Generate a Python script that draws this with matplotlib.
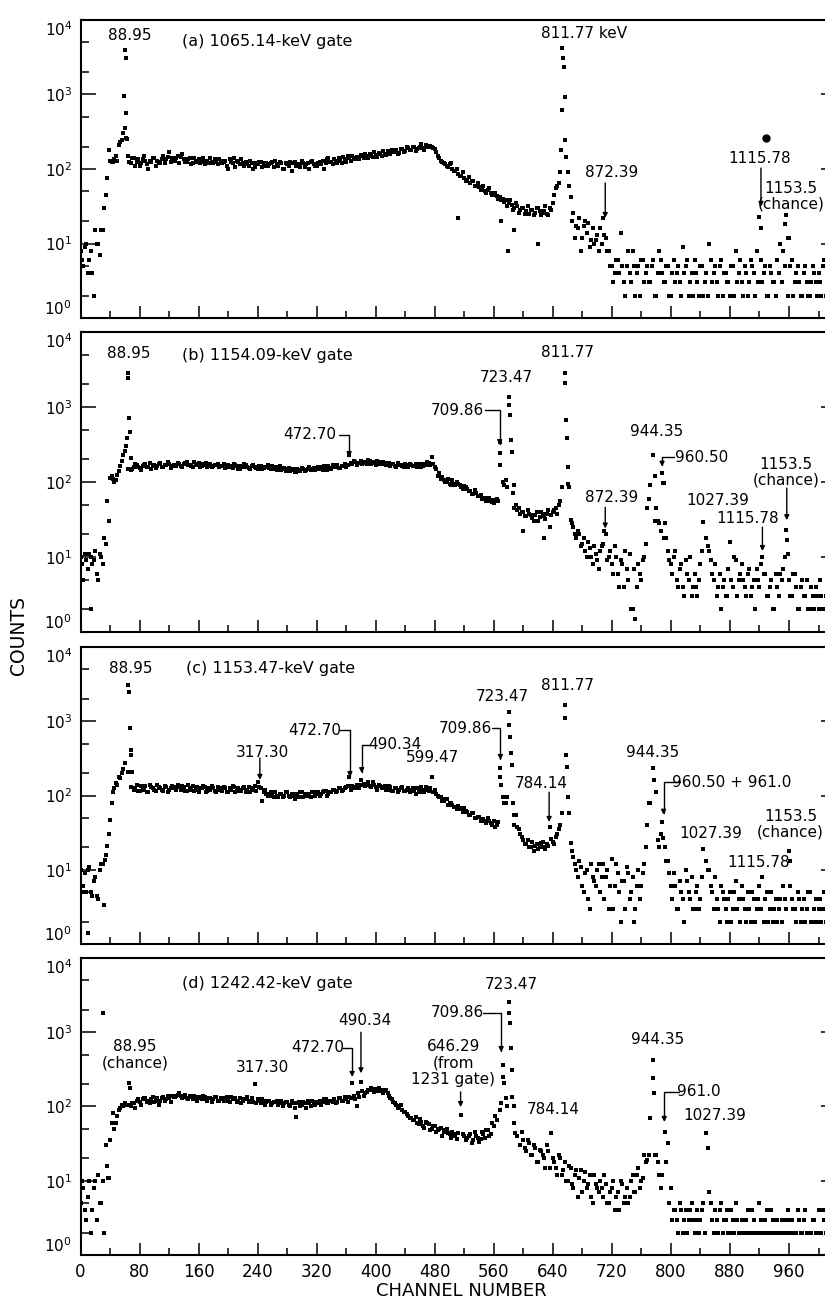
import numpy as np
import matplotlib.pyplot as plt

plt.rcParams['font.family'] = ['DejaVu Sans']

channels = np.arange(0, 1024, 4)
channels2 = np.arange(2, 1024, 4)

# ---- (a) 1065.14-keV gate ----  (0 = no visible point)
counts_a = [
    8, 5, 10, 6, 4, 15, 10, 15, 30, 75, 130, 125, 150, 210, 245, 360,
    150, 120, 140, 125, 110, 135, 130, 100, 125, 140, 130, 120, 150, 135, 170, 140,
    130, 150, 145, 135, 125, 140, 120, 130, 135, 125, 115, 130, 140, 120, 125, 135,
    120, 130, 100, 125, 140, 130, 115, 120, 125, 110, 120, 105, 115, 125, 110, 120,
    115, 125, 130, 110, 120, 100, 115, 125, 120, 110, 115, 130, 105, 120, 125, 115,
    110, 125, 130, 120, 140, 125, 135, 120, 130, 145, 125, 140, 150, 135, 145, 155,
    140, 150, 160, 145, 155, 165, 150, 160, 175, 160, 170, 180, 165, 185, 175, 190,
    180, 195, 185, 200, 190, 210, 195, 200, 185, 150, 130, 120, 110, 115, 100, 95,
    85, 80, 75, 72, 65, 70, 60, 57, 55, 50, 52, 48, 45, 44, 42, 40,
    38, 35, 33, 30, 32, 28, 30, 27, 25, 28, 26, 30, 24, 27, 25, 30,
    35, 55, 65, 620, 930, 90, 42, 26, 17, 22, 12, 20, 19, 11, 10, 13,
    16, 22, 12, 8, 5, 4, 6, 14, 3, 5, 4, 8, 2, 5, 6, 3,
    5, 3, 6, 2, 8, 4, 3, 5, 2, 6, 4, 3, 9, 5, 2, 4,
    6, 3, 5, 2, 4, 10, 3, 5, 2, 6, 4, 3, 2, 5, 8, 4,
    3, 5, 2, 6, 4, 8, 23, 3, 5, 2, 4, 3, 6, 10, 8, 24,
    12, 6, 3, 5, 2, 4, 3, 2, 5, 3, 4, 2, 6, 3, 2, 4,
]
counts_a2 = [
    6, 9, 4, 8, 2, 10, 7, 15, 45, 180, 125, 135, 130, 230, 300, 260,
    125, 140, 110, 135, 120, 150, 115, 130, 140, 110, 125, 135, 120, 145, 125, 130,
    140, 120, 160, 125, 135, 115, 140, 125, 120, 140, 130, 120, 125, 135, 115, 130,
    125, 110, 135, 120, 105, 125, 135, 110, 115, 130, 100, 120, 125, 105, 120, 110,
    120, 105, 115, 125, 100, 120, 110, 95, 125, 115, 105, 120, 115, 100, 130, 110,
    120, 115, 100, 135, 125, 115, 130, 140, 120, 135, 150, 130, 140, 145, 135, 150,
    160, 140, 150, 170, 145, 160, 175, 155, 165, 180, 170, 160, 185, 170, 195, 180,
    200, 175, 190, 215, 180, 195, 205, 190, 170, 140, 125, 115, 105, 120, 95, 100,
    80, 90, 70, 78, 68, 60, 65, 52, 60, 48, 55, 45, 48, 40, 38, 36,
    32, 38, 28, 35, 26, 30, 25, 32, 28, 24, 30, 27, 26, 32, 24, 28,
    45, 60, 90, 0, 0, 60, 20, 12, 16, 8, 17, 14, 9, 16, 11, 8,
    10, 13, 8, 5, 3, 6, 4, 5, 2, 8, 3, 5, 4, 2, 6, 4,
    3, 5, 2, 4, 6, 3, 5, 2, 4, 3, 5, 2, 4, 6, 3, 2,
    4, 2, 5, 3, 2, 6, 4, 3, 5, 2, 4, 3, 5, 2, 3, 6,
    2, 4, 3, 5, 2, 3, 6, 4, 2, 5, 3, 2, 4, 3, 5, 2,
    5, 2, 4, 3, 2, 5, 2, 3, 4, 2, 3, 5, 2, 4, 2, 3,
]
extra_ch_a = [59, 60, 61, 62, 63, 511, 570, 579, 588, 620, 650, 651, 653, 654, 655, 657, 658, 922, 955, 958]
extra_cnt_a = [950, 4000, 3100, 560, 250, 22, 20, 8, 15, 10, 90, 180, 4200, 3100, 2350, 245, 145, 16, 18, 12]

# ---- (b) 1154.09-keV gate ----
counts_b = [
    10, 5, 9, 11, 8, 12, 5, 10, 18, 55, 112, 110, 105, 140, 190, 260,
    150, 145, 160, 170, 155, 165, 175, 160, 150, 170, 165, 180, 160, 170, 175, 165,
    170, 180, 165, 175, 185, 170, 160, 175, 180, 165, 170, 160, 175, 165, 170, 160,
    165, 155, 170, 160, 175, 165, 150, 160, 170, 155, 165, 160, 150, 165, 155, 160,
    155, 165, 150, 160, 145, 155, 150, 140, 150, 135, 145, 155, 140, 150, 145, 155,
    150, 160, 145, 155, 165, 150, 160, 170, 155, 165, 160, 230, 175, 185, 180, 190,
    185, 175, 190, 180, 170, 185, 175, 180, 170, 165, 175, 160, 170, 165, 175, 160,
    170, 165, 160, 175, 165, 170, 180, 215, 160, 120, 110, 105, 100, 95, 105, 90,
    95, 85, 88, 80, 75, 70, 72, 65, 60, 62, 55, 58, 52, 60, 340, 100,
    107, 1350, 250, 45, 42, 38, 40, 35, 38, 33, 36, 30, 40, 35, 38, 25,
    40, 45, 50, 85, 2850, 160, 31, 25, 18, 20, 15, 12, 16, 10, 14, 9,
    12, 15, 20, 10, 8, 14, 6, 9, 4, 7, 11, 2, 1.5, 8, 5, 10,
    45, 91, 230, 45, 28, 132, 28, 12, 8, 10, 5, 7, 4, 9, 5, 3,
    6, 3, 8, 29, 18, 12, 6, 8, 4, 2, 5, 3, 16, 4, 9, 5,
    8, 4, 6, 3, 5, 7, 4, 10, 6, 3, 5, 2, 4, 6, 7, 23,
    5, 3, 6, 2, 4, 3, 5, 2, 3, 4, 2, 3, 2, 4, 3, 2,
]
counts_b2 = [
    8, 11, 7, 10, 9, 6, 11, 8, 15, 30, 120, 100, 125, 165, 230, 0,
    0, 150, 175, 160, 145, 170, 160, 180, 165, 155, 175, 160, 170, 185, 155, 170,
    165, 175, 160, 180, 170, 165, 185, 170, 160, 175, 180, 165, 160, 170, 175, 165,
    175, 160, 165, 155, 170, 150, 165, 175, 160, 150, 170, 155, 165, 150, 160, 170,
    150, 160, 145, 165, 150, 140, 155, 145, 135, 150, 140, 150, 145, 160, 150, 145,
    160, 150, 165, 145, 155, 170, 160, 155, 165, 175, 170, 180, 190, 170, 180, 175,
    180, 195, 175, 185, 190, 175, 185, 170, 180, 175, 165, 180, 170, 160, 170, 175,
    165, 175, 170, 160, 175, 185, 170, 175, 150, 130, 115, 100, 110, 90, 95, 100,
    90, 80, 85, 75, 70, 78, 65, 68, 60, 55, 62, 54, 58, 55, 0, 90,
    85, 0, 0, 50, 45, 40, 35, 42, 36, 30, 40, 34, 38, 32, 42, 36,
    42, 38, 55, 0, 0, 85, 28, 20, 22, 14, 18, 10, 13, 8, 11, 7,
    14, 22, 9, 12, 6, 10, 4, 8, 12, 5, 2, 7, 4, 6, 9, 15,
    60, 0, 120, 30, 22, 97, 18, 9, 6, 12, 4, 8, 3, 6, 10, 4,
    4, 5, 12, 0, 14, 9, 5, 3, 6, 4, 3, 7, 5, 10, 3, 6,
    5, 3, 7, 4, 2, 5, 8, 6, 3, 4, 2, 6, 3, 5, 10, 0,
    3, 6, 4, 2, 5, 3, 2, 4, 2, 3, 5, 2, 3, 2, 4, 3,
]
extra_ch_b = [14, 62, 63, 64, 65, 66, 67, 68, 568, 569, 581, 582, 583, 586, 587, 600, 628,
              657, 658, 659, 661, 778, 789, 790, 957, 958]
extra_cnt_b = [2, 300, 390, 2850, 2440, 710, 465, 210, 245, 170, 1070, 780, 360, 71, 90, 22, 18,
               2100, 670, 390, 95, 30, 97, 18, 17, 11]

# ---- (c) 1153.47-keV gate ----
counts_c = [
    10, 6, 5, 11, 4.5, 8, 4, 12, 3.4, 21, 47, 112, 148, 180, 200, 275,
    210, 130, 120, 140, 115, 125, 135, 110, 130, 120, 140, 125, 115, 130, 120, 135,
    125, 140, 120, 130, 115, 125, 135, 120, 110, 125, 130, 115, 120, 125, 110, 120,
    115, 125, 110, 120, 130, 115, 120, 125, 110, 130, 120, 135, 150, 125, 110, 105,
    105, 100, 110, 95, 105, 100, 110, 95, 100, 105, 95, 110, 100, 105, 95, 110,
    105, 100, 110, 115, 105, 110, 120, 115, 125, 120, 130, 177, 135, 125, 140, 162,
    145, 140, 135, 150, 130, 140, 125, 135, 120, 130, 115, 125, 120, 130, 115, 125,
    120, 115, 125, 110, 120, 130, 115, 177, 120, 100, 95, 85, 90, 80, 75, 70,
    72, 65, 68, 60, 55, 58, 50, 52, 48, 45, 50, 42, 45, 40, 235, 95,
    79, 1330, 257, 40, 38, 30, 25, 22, 20, 24, 21, 19, 23, 20, 22, 38,
    24, 28, 35, 58, 1650, 95, 23, 15, 10, 13, 6, 9, 4, 12, 7, 10,
    5, 12, 8, 3, 14, 6, 9, 2, 7, 11, 4, 8, 3, 10, 6, 12,
    40, 79, 235, 112, 20, 44, 20, 13, 6, 9, 3, 7, 4, 10, 5, 8,
    3, 6, 4, 19, 13, 10, 5, 8, 3, 6, 4, 2, 5, 3, 7, 4,
    6, 3, 5, 2, 4, 3, 6, 8, 4, 2, 5, 3, 2, 4, 6, 3,
    18, 4, 3, 5, 2, 4, 3, 5, 2, 4, 3, 2, 5, 3, 4, 2,
]
counts_c2 = [
    5, 9, 10, 5, 7, 4.5, 10, 12, 16, 30, 80, 125, 140, 170, 230, 0,
    0, 0, 125, 115, 135, 120, 110, 140, 125, 115, 130, 120, 135, 110, 125, 130,
    120, 130, 135, 115, 140, 120, 115, 130, 125, 135, 110, 125, 135, 115, 130, 125,
    130, 110, 125, 135, 110, 125, 115, 130, 120, 110, 125, 115, 130, 85, 120, 100,
    110, 95, 100, 105, 95, 110, 100, 105, 90, 100, 110, 95, 105, 100, 110, 100,
    110, 105, 115, 100, 110, 120, 110, 125, 115, 125, 135, 120, 130, 140, 125, 140,
    135, 150, 130, 140, 120, 135, 130, 120, 135, 115, 125, 110, 125, 115, 120, 110,
    125, 105, 115, 130, 110, 120, 125, 110, 105, 95, 85, 90, 75, 80, 70, 65,
    68, 60, 62, 55, 58, 50, 52, 46, 48, 42, 45, 40, 38, 44, 0, 80,
    95, 0, 0, 55, 35, 28, 22, 25, 20, 18, 22, 20, 24, 19, 21, 26,
    22, 30, 40, 0, 0, 58, 18, 12, 8, 11, 5, 10, 3, 8, 6, 12,
    8, 4, 10, 6, 3, 12, 5, 7, 3, 9, 5, 2, 6, 4, 9, 20,
    79, 0, 0, 25, 30, 0, 13, 9, 4, 6, 3, 5, 2, 7, 4, 3,
    5, 3, 8, 0, 10, 6, 3, 4, 2, 5, 3, 4, 2, 5, 3, 2,
    4, 2, 3, 5, 2, 4, 3, 2, 5, 3, 2, 4, 3, 2, 4, 0,
    0, 3, 2, 4, 3, 2, 5, 2, 3, 2, 4, 3, 2, 3, 2, 4,
]
extra_ch_c = [10, 33, 65, 66, 67, 68, 69, 70, 569, 570, 581, 582, 583, 586, 588,
              657, 658, 659, 662, 777, 789, 961, 962]
extra_cnt_c = [1.4, 13.5, 3100, 2450, 810, 410, 350, 210, 177, 138, 890, 615, 370, 79, 55,
               1100, 350, 240, 58, 162, 27, 13, 6]

# ---- (d) 1242.42-keV gate ----
counts_d = [
    5, 8, 3, 10, 4, 10, 12, 5, 2, 16, 35, 81, 60, 90, 105, 110,
    105, 100, 110, 120, 115, 125, 130, 120, 125, 115, 130, 120, 135, 125, 130, 140,
    135, 145, 140, 135, 130, 140, 125, 135, 130, 125, 135, 120, 130, 125, 135, 120,
    125, 130, 120, 135, 125, 115, 130, 120, 125, 115, 130, 200, 125, 110, 120, 115,
    120, 110, 115, 105, 120, 110, 115, 100, 110, 72, 115, 105, 110, 120, 100, 115,
    110, 120, 115, 125, 110, 120, 125, 115, 130, 120, 125, 135, 208, 125, 150, 215,
    140, 155, 165, 170, 160, 175, 165, 160, 150, 130, 115, 105, 100, 90, 85, 75,
    70, 65, 60, 68, 55, 62, 58, 50, 55, 48, 52, 45, 50, 42, 46, 40,
    44, 77, 40, 38, 42, 35, 40, 33, 45, 38, 48, 42, 55, 65, 90, 360,
    130, 2560, 310, 100, 40, 30, 35, 25, 32, 22, 28, 18, 25, 20, 30, 15,
    20, 15, 22, 12, 18, 10, 15, 8, 14, 11, 7, 13, 9, 6, 12, 8,
    10, 6, 9, 5, 8, 4, 7, 10, 5, 8, 6, 12, 7, 15, 10, 22,
    19, 70, 425, 22, 12, 12, 45, 32, 8, 4, 3, 5, 2, 4, 3, 5,
    2, 4, 3, 5, 44, 7, 3, 4, 2, 5, 3, 4, 2, 3, 5, 2,
    3, 2, 4, 2, 3, 2, 5, 2, 3, 2, 4, 2, 3, 2, 2, 3,
    2, 3, 2, 4, 2, 3, 2, 2, 3, 2, 4, 2, 3, 2, 2, 3,
]
counts_d2 = [
    10, 4, 6, 2, 8, 3, 5, 10, 30, 11, 60, 50, 75, 95, 100, 105,
    0, 110, 95, 125, 105, 130, 115, 110, 135, 120, 105, 130, 120, 140, 115, 135,
    140, 150, 130, 145, 125, 135, 140, 120, 135, 140, 125, 130, 115, 135, 120, 130,
    120, 135, 115, 125, 130, 120, 110, 125, 135, 120, 115, 110, 120, 125, 105, 120,
    105, 115, 120, 110, 100, 115, 105, 120, 95, 110, 100, 115, 95, 110, 120, 105,
    115, 105, 125, 110, 120, 115, 110, 130, 120, 135, 115, 130, 140, 100, 135, 160,
    150, 165, 175, 155, 170, 160, 150, 165, 140, 125, 110, 95, 105, 85, 80, 70,
    65, 72, 58, 62, 52, 60, 48, 55, 45, 50, 40, 48, 44, 38, 42, 36,
    0, 42, 35, 40, 32, 45, 38, 36, 42, 48, 40, 60, 75, 0, 0, 0,
    100, 0, 0, 0, 0, 45, 28, 35, 22, 30, 18, 26, 22, 15, 25, 0,
    18, 12, 20, 14, 10, 16, 9, 12, 6, 14, 10, 8, 12, 5, 9, 7,
    8, 12, 5, 7, 10, 6, 4, 9, 6, 5, 10, 7, 12, 8, 11, 18,
    22, 0, 0, 18, 8, 0, 0, 5, 3, 4, 2, 4, 3, 2, 4, 3,
    3, 2, 4, 2, 0, 5, 2, 3, 4, 2, 3, 2, 4, 2, 3, 2,
    2, 3, 2, 4, 2, 2, 3, 2, 4, 2, 3, 2, 2, 3, 2, 4,
    3, 2, 2, 3, 2, 4, 2, 2, 3, 2, 2, 4, 2, 3, 2, 2,
]
extra_ch_d = [31, 37, 66, 67, 570, 573, 574, 581, 582, 583, 585, 587, 589, 638,
              776, 777, 779, 793, 850]
extra_cnt_d = [1800, 11, 208, 177, 112, 250, 208, 1820, 1330, 615, 134, 60, 44, 44,
               240, 150, 22, 18, 28]

titles = ['(a) 1065.14-keV gate', '(b) 1154.09-keV gate',
          '(c) 1153.47-keV gate', '(d) 1242.42-keV gate']
title_pos = [(137, 5100), (138, 4800), (143, 5200), (138, 4600)]

# peak labels: (text, channel, counts)
labels = [
    [('88.95', 67, 6100), ('811.77 keV', 682, 6500), ('872.39', 720, 89),
     ('1115.78', 920, 140), ('1153.5\n(chance)', 963, 43)],
    [('88.95', 65, 5100), ('472.70', 311, 425), ('811.77', 660, 5250),
     ('723.47', 577, 2500), ('709.86', 511, 910), ('944.35', 780, 465),
     ('960.50', 842, 215), ('872.39', 719, 63), ('1027.39', 863, 57),
     ('1115.78', 904, 33), ('1153.5\n(chance)', 956, 135)],
    [('88.95', 68, 5200), ('317.30', 247, 385), ('472.70', 318, 760),
     ('490.34', 426, 480), ('599.47', 477, 320), ('723.47', 572, 2130),
     ('811.77', 660, 3070), ('709.86', 521, 810), ('784.14', 624, 147),
     ('944.35', 775, 375), ('960.50 + 961.0', 883, 150), ('1027.39', 854, 31),
     ('1115.78', 919, 12.7), ('1153.5\n(chance)', 962, 41)],
    [('88.95\n(chance)', 74, 495), ('317.30', 246, 340), ('472.70', 322, 615),
     ('490.34', 385, 1420), ('723.47', 584, 4460), ('709.86', 511, 1820),
     ('646.29\n(from\n1231 gate)', 505, 385), ('784.14', 640, 90),
     ('944.35', 782, 810), ('961.0', 838, 157), ('1027.39', 859, 75)],
]
# straight arrows: (channel, from counts, to counts)
arrows = [
    [(711, 65, 22), (922, 103, 31)],
    [(711, 46, 24), (924, 25, 12), (957, 83, 31)],
    [(243, 320, 162), (635, 111, 44)],
    [(380, 1000, 280), (515, 157, 98)],
]
# bracket arrows: (start channel, counts, arrow channel, to counts)
brackets = [
    [],
    [(350, 425, 364, 215), (548, 910, 568, 310), (804, 215, 788, 160)],
    [(352, 760, 365, 177), (392, 480, 381, 200), (557, 810, 569, 300), (812, 150, 790, 55)],
    [(354, 615, 368, 250), (546, 1820, 570, 540), (811, 157, 791, 62)],
]

panel_box = [(0.75576, 0.22888), (0.51459, 0.23041), (0.27496, 0.22811), (0.03610, 0.22811)]
all_counts = [(counts_a, counts_a2), (counts_b, counts_b2), (counts_c, counts_c2), (counts_d, counts_d2)]
all_extra = [(extra_ch_a, extra_cnt_a), (extra_ch_b, extra_cnt_b),
             (extra_ch_c, extra_cnt_c), (extra_ch_d, extra_cnt_d)]

fig = plt.figure(figsize=(8.25, 13.02), dpi=100)
arrow_kw = dict(arrowstyle='-|>', color='k', lw=1.0, mutation_scale=7, shrinkA=0, shrinkB=0)
dot = dict(ls='none', marker='s', ms=2.4, mew=0, color='k')

for i in range(4):
    bottom, height = panel_box[i]
    ax = fig.add_axes([0.0976, bottom, 0.916, height])
    ax.set_yscale('log')
    ax.set_xlim(0, 1024)
    ax.set_ylim(1, 1e4)

    c1 = np.array(all_counts[i][0], dtype=float)
    c2 = np.array(all_counts[i][1], dtype=float)
    ax.plot(channels, np.where(c1 > 0, c1, np.nan), **dot)
    ax.plot(channels2, np.where(c2 > 0, c2, np.nan), **dot)
    ax.plot(all_extra[i][0], all_extra[i][1], **dot)
    if i == 0:
        ax.plot([929], [262], 'o', ms=5, color='k')

    ax.text(title_pos[i][0], title_pos[i][1], titles[i], ha='left', va='center', fontsize=11.5)
    for txt, ch, cnt in labels[i]:
        ax.text(ch, cnt, txt, ha='center', va='center', fontsize=11, linespacing=1.1)
    for ch, top, tip in arrows[i]:
        ax.annotate('', xy=(ch, tip), xytext=(ch, top), arrowprops=arrow_kw)
    for start, y, ch, tip in brackets[i]:
        ax.annotate('', xy=(ch, tip), xytext=(start, y),
                    arrowprops=dict(arrow_kw, connectionstyle='angle,angleA=0,angleB=90,rad=0'))

    ax.set_yticks([1, 10, 100, 1000, 10000])
    ax.set_yticks([2, 5, 20, 50, 200, 500, 2000, 5000], minor=True)
    ax.yaxis.set_minor_formatter(plt.NullFormatter())
    ax.set_xticks(range(0, 1024, 80))
    ax.set_xticks(range(40, 1024, 80), minor=True)
    ax.tick_params(which='both', direction='in', top=False, right=True, width=1.1)
    ax.tick_params(axis='x', which='major', length=9, labelsize=12, pad=6)
    ax.tick_params(axis='x', which='minor', length=5)
    ax.tick_params(axis='y', which='major', length=11, labelsize=11, pad=6)
    ax.tick_params(axis='y', which='minor', length=6)
    if i < 3:
        ax.tick_params(axis='x', labelbottom=False)
    ylabels = ax.get_yticklabels()
    ylabels[0].set_verticalalignment('bottom')
    ylabels[-1].set_verticalalignment('top')
    for sp in ax.spines.values():
        sp.set_linewidth(1.5)

fig.text(0.023, 0.512, 'COUNTS', rotation=90, ha='center', va='center', fontsize=13.5)
fig.text(0.559, 0.0085, 'CHANNEL NUMBER', ha='center', va='center', fontsize=13)

fig.savefig('out.png', dpi=100)
